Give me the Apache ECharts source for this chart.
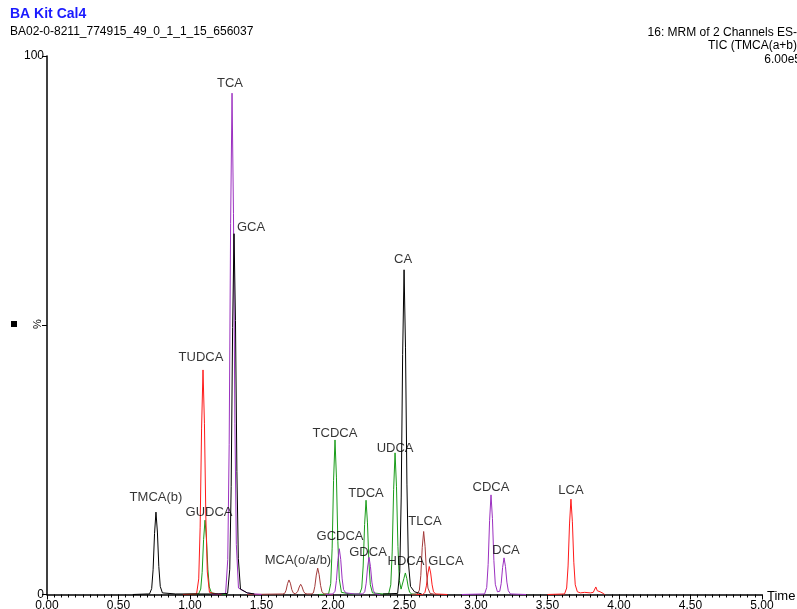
<!DOCTYPE html>
<html>
<head>
<meta charset="utf-8">
<script src="https://cdn.jsdelivr.net/npm/echarts@6/dist/echarts.min.js"></script>
<style>html,body{margin:0;padding:0;background:#fff}#c{width:797px;height:609px}</style>
</head>
<body>
<div id="c"></div>
<script>
// ---- data (time in min, intensity in %) ----
const blackTrace = [
  [0.60,0],[0.70,0.1],
  [0.717,0.1],[0.732,1.1],[0.742,4.6],[0.752,11.3],[0.762,15.3],[0.772,11.6],[0.782,5.2],[0.792,1.5],[0.807,0.3],
  [0.90,0.1],[1.20,0.1],
  [1.263,0.2],[1.278,4.7],[1.288,20.1],[1.298,49.6],[1.308,67],[1.318,50.9],[1.328,22.8],[1.338,6.7],[1.353,1.0],[1.40,0.3],[1.45,0.1],
  null,
  [2.35,0.1],[2.452,0.2],[2.467,4.2],[2.477,18.1],[2.487,44.6],[2.497,60.3],[2.507,45.8],[2.517,20.5],[2.527,6.0],[2.542,1.5],[2.57,0.5],[2.62,0.1]
];
const redTrace = [
  [0.95,0],[1.046,0.1],
  [1.061,2.9],[1.071,12.5],[1.081,30.9],[1.091,41.7],[1.101,31.7],[1.111,14.2],[1.121,4.2],[1.136,0.4],[1.18,0.1],[1.22,0],
  null,
  [2.58,0],[2.628,0],[2.643,0.4],[2.653,1.6],[2.663,3.8],[2.673,5.2],[2.683,4.0],[2.693,1.8],[2.703,0.5],[2.718,0.1],[2.80,0],
  null,
  [3.50,0],[3.619,0.1],[3.634,1.2],[3.644,5.3],[3.654,13.1],[3.664,17.7],[3.674,13.5],[3.684,6.0],[3.694,1.8],[3.709,0.5],
  [3.73,0.3],[3.76,0.4],[3.80,0.3],[3.82,0.4],[3.838,1.4],[3.848,0.7],[3.858,1.0],[3.868,0.5],[3.89,0.2],[3.90,0]
];
const greenTrace = [
  [0.95,0],[1.06,0.1],[1.075,1.0],[1.085,4.1],[1.095,10.2],[1.105,13.8],[1.115,10.5],[1.125,4.7],[1.135,1.4],[1.15,0.3],[1.20,0.1],[1.25,0],
  null,
  [1.90,0],[1.969,0.1],[1.984,2.0],[1.994,8.6],[2.004,21.2],[2.014,28.7],[2.024,21.8],[2.034,9.8],[2.044,2.9],[2.059,0.4],[2.12,0.1],[2.186,0.1],
  [2.201,1.2],[2.211,5.3],[2.221,13.0],[2.231,17.5],[2.241,13.3],[2.251,6.0],[2.261,1.8],[2.276,0.3],[2.35,0.1],[2.389,0.1],
  [2.404,1.8],[2.414,7.9],[2.424,19.5],[2.434,26.3],[2.444,20.0],[2.454,8.9],[2.464,2.6],[2.476,1.0],
  [2.486,1.3],[2.496,3.0],[2.506,4.0],[2.516,3.0],[2.526,1.4],[2.536,0.4],[2.551,0.1],[2.60,0]
];
const purpleTrace = [
  [1.15,0],[1.249,0.2],[1.264,6.5],[1.274,27.9],[1.284,68.9],[1.294,93.1],[1.304,70.8],[1.314,31.7],[1.324,9.3],[1.339,1.2],[1.40,0.3],[1.45,0.1],[1.50,0],
  null,
  [1.95,0],[1.999,0.1],[2.014,0.6],[2.024,2.6],[2.034,6.3],[2.044,8.5],[2.054,6.5],[2.064,2.9],[2.074,0.9],[2.089,0.3],[2.15,0.1],[2.207,0.1],
  [2.222,0.5],[2.232,2.1],[2.242,5.1],[2.252,6.9],[2.262,5.2],[2.272,2.3],[2.282,0.7],[2.297,0.1],[2.33,0],
  null,
  [2.90,0],[3.06,0.1],[3.075,1.3],[3.085,5.6],[3.095,13.7],[3.105,18.5],[3.115,14.1],[3.125,6.3],[3.135,1.9],[3.15,0.5],
  [3.166,0.6],[3.176,2.0],[3.186,5.0],[3.196,6.8],[3.206,5.2],[3.216,2.3],[3.226,0.7],[3.241,0.1],[3.35,0]
];
const brownTrace = [
  [1.40,0],[1.647,0.1],
  [1.662,0.2],[1.672,0.8],[1.682,2.0],[1.692,2.7],[1.702,2.1],[1.712,0.9],[1.722,0.3],[1.737,0.1],
  [1.744,0.1],[1.754,0.6],[1.764,1.4],[1.774,1.9],[1.784,1.4],[1.794,0.6],[1.804,0.2],[1.819,0.1],
  [1.848,0.1],[1.863,0.3],[1.873,1.5],[1.883,3.6],[1.893,4.9],[1.903,3.7],[1.913,1.7],[1.923,0.5],[1.938,0.1],[2.0,0],
  null,
  [2.55,0],[2.589,0.1],[2.604,0.8],[2.614,3.5],[2.624,8.7],[2.634,11.7],[2.644,8.9],[2.654,4.0],[2.664,1.2],[2.679,0.2],[2.72,0]
];
// peak labels: name, label anchor time, label anchor level (%)
const labelNames  = ['TCA','GCA','TUDCA','TMCA(b)','GUDCA','TCDCA','UDCA','CA','TDCA','GCDCA','GDCA','MCA(o/a/b)','HDCA','GLCA','TLCA','CDCA','DCA','LCA'];
const labelTimes  = [1.280,1.427,1.077,0.762,1.133,2.014,2.434,2.490,2.231,2.049,2.245,1.755,2.510,2.790,2.643,3.105,3.210,3.664];
const labelLevels = [95.0,68.2,44.1,18.1,15.3,30.0,27.2,62.3,18.7,10.7,7.9,6.4,6.2,6.2,13.6,19.8,8.1,19.4];
const xTicks = [0,0.5,1,1.5,2,2.5,3,3.5,4,4.5,5];
const yTickLabels = {0:'0',100:'100'};

const FONT = 'Liberation Sans, Arial, sans-serif';
const chart = echarts.init(document.getElementById('c'), null, {renderer:'canvas'});
function trace(data, color){
  return {type:'line', data:data, showSymbol:false, symbol:'none', connectNulls:false,
    lineStyle:{color:color, width:1}, itemStyle:{color:color}, silent:true, z:2};
}
chart.setOption({
  animation:false,
  backgroundColor:'#fff',
  grid:{left:47, right:35, top:56, bottom:14.5, containLabel:false, outerBoundsMode:'none'},
  xAxis:{type:'value', min:xTicks[0], max:xTicks[xTicks.length-1], interval:0.5,
    axisLine:{show:true, onZero:false, lineStyle:{color:'#000', width:1.5}},
    axisTick:{show:true, length:5, lineStyle:{color:'#000'}},
    minorTick:{show:true, splitNumber:10, length:3, lineStyle:{color:'#000'}},
    splitLine:{show:false},
    axisLabel:{fontFamily:FONT, fontSize:12, color:'#000', margin:5, formatter:v=>v.toFixed(2)}
  },
  yAxis:{type:'value', min:0, max:100, interval:50,
    axisLine:{show:true, lineStyle:{color:'#000', width:1.5}},
    axisTick:{show:true, length:5, lineStyle:{color:'#000'}},
    splitLine:{show:false},
    axisLabel:{fontFamily:FONT, fontSize:12, color:'#000', margin:3, formatter:v=>yTickLabels[v]||''}
  },
  series:[
    trace(greenTrace,'#1a9c1a'),
    trace(redTrace,'#ff1a1a'),
    trace(brownTrace,'#a33a3a'),
    trace(purpleTrace,'#9b30c0'),
    trace(blackTrace,'#000000'),
    {type:'scatter', symbolSize:1, itemStyle:{color:'rgba(0,0,0,0)'}, silent:true, z:5,
     data: labelNames.map((n,i)=>({name:n, value:[labelTimes[i], labelLevels[i]]})),
     label:{show:true, position:'inside', formatter:p=>p.name, fontFamily:FONT, fontSize:13, color:'#000'}
    }
  ],
  graphic:[
    {type:'text', left:10, top:7, style:{text:'BA Kit Cal4', font:'bold 14px '+FONT, fill:'#1a1aff'}},
    {type:'text', left:10, top:26, style:{text:'BA02-0-8211_774915_49_0_1_1_15_656037', font:'12px '+FONT, fill:'#000'}},
    {type:'text', x:797, y:33, style:{text:'16: MRM of 2 Channels ES-', font:'12px '+FONT, fill:'#000', align:'right', verticalAlign:'middle'}},
    {type:'text', x:801, y:46, style:{text:'TIC (TMCA(a+b))', font:'12px '+FONT, fill:'#000', align:'right', verticalAlign:'middle'}},
    {type:'text', x:801, y:60, style:{text:'6.00e5', font:'12px '+FONT, fill:'#000', align:'right', verticalAlign:'middle'}},
    {type:'text', x:767, y:596, style:{text:'Time', font:'13px '+FONT, fill:'#000', align:'left', verticalAlign:'middle'}},
    {type:'text', x:38, y:324, rotation:Math.PI/2, style:{text:'%', font:'11px '+FONT, fill:'#000', align:'center', verticalAlign:'middle'}},
    {type:'rect', shape:{x:11, y:321, width:6, height:6}, style:{fill:'#000'}}
  ]
});
</script>
</body>
</html>
